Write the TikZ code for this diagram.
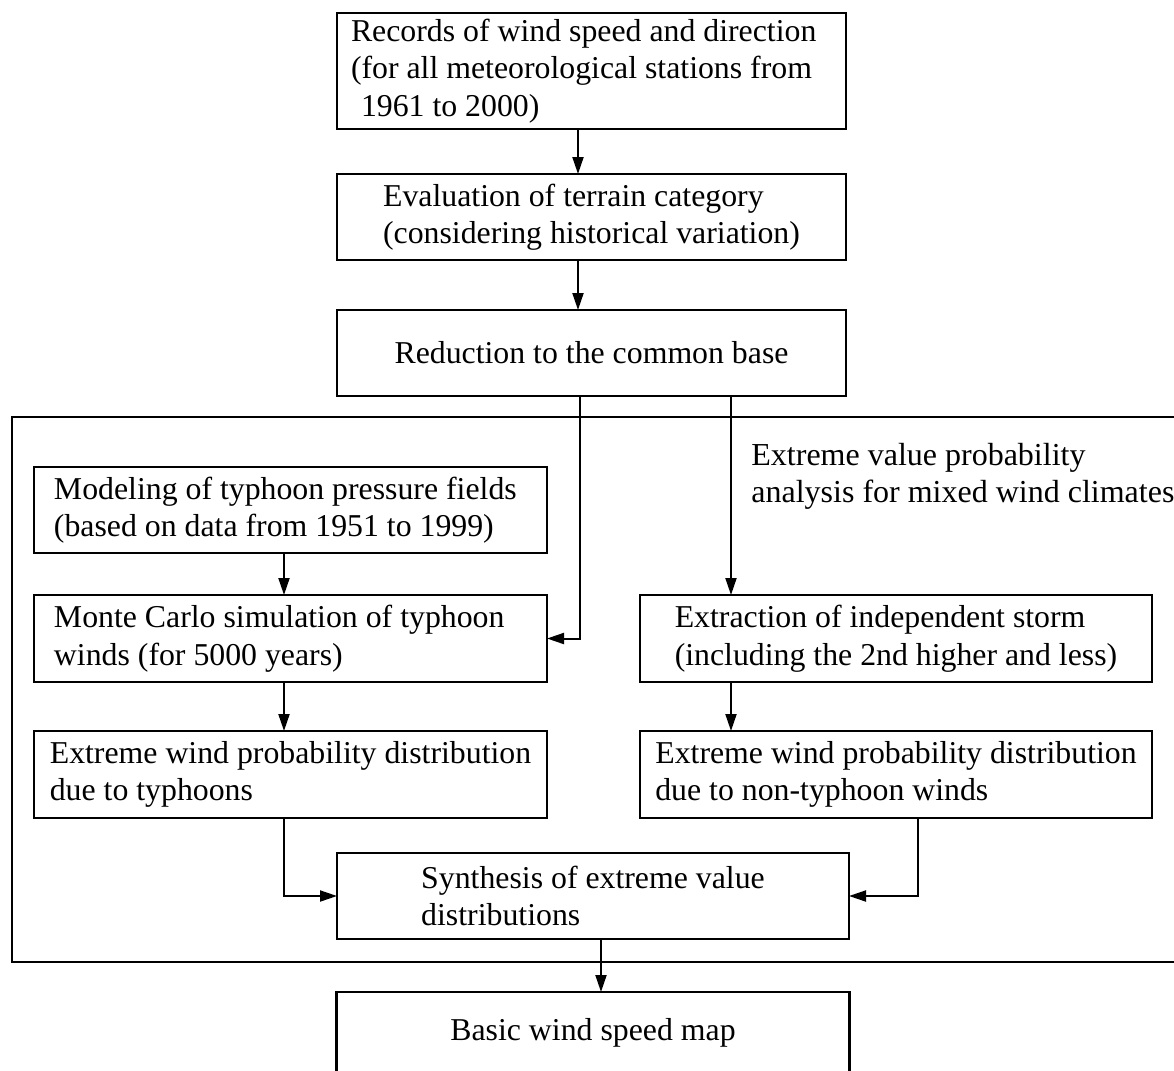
\documentclass[tikz,border=0pt]{standalone}
\usepackage{fontspec}
\setmainfont{Liberation Serif}
\usetikzlibrary{positioning,arrows.meta}

\tikzset{
  block/.style={draw, line width=1.35pt, outer sep=0pt, inner ysep=1pt, align=flush left,
    minimum width=254.5pt, minimum height=43pt, font=\fontsize{15.9pt}{18.75pt}\selectfont},
  note/.style={anchor=west, align=flush left, inner sep=0pt, font=\fontsize{16pt}{18.5pt}\selectfont},
  flow/.style={line width=1pt, -{Triangle[length=8.5pt,width=5.5pt]}},
}

\begin{document}
\begin{tikzpicture}
  \useasboundingbox (0,0) rectangle (587pt,-535.5pt);
  \clip (0,0) rectangle (587pt,-535.5pt);

  % Define nodes
  \node[block, minimum height=58pt, inner xsep=7pt, text width=240.5pt] (rec) at (295.75pt,-35.5pt)
    {Records of wind speed and direction\\(for all meteorological stations from\\\hspace*{5pt}1961 to 2000)};
  \node[block, below=22.5pt of rec] (eva) {Evaluation of terrain category\\(considering historical variation)};
  \node[block, below=25pt of eva] (red) {Reduction to the common base};
  \node[block, below=35.5pt of red, xshift=-150.5pt, minimum width=256.5pt, inner xsep=10pt, text width=236.5pt] (mod)
    {Modeling of typhoon pressure fields\\(based on data from 1951 to 1999)};
  \node[block, below=21pt of mod, minimum width=256.5pt, minimum height=43.5pt, inner xsep=10pt, text width=236.5pt] (mc)
    {Monte Carlo simulation of typhoon\\winds (for 5000 years)};
  \node[block, below=24.5pt of mc, minimum width=256.5pt, minimum height=43.5pt] (ty)
    {Extreme wind probability distribution\\due to typhoons};
  \node[block, right=46.5pt of mc, minimum width=256pt, minimum height=43.5pt] (ind)
    {Extraction of independent storm\\(including the 2nd higher and less)};
  \node[block, below=24.5pt of ind, minimum width=256pt, minimum height=43.5pt] (nty)
    {Extreme wind probability distribution\\due to non-typhoon winds};
  \node[block, below=17.5pt of ty, xshift=151.25pt, minimum width=256pt] (syn) {Synthesis of extreme value\\distributions};
  \node[block, below=26.5pt of syn, minimum width=256.5pt, minimum height=41pt] (map) {Basic wind speed map};

  \node[note] (mix) at (375.5pt,-238.25pt) {Extreme value probability\\analysis for mixed wind climates};

  % Frame
  \draw[line width=1pt] (6pt,-208.5pt) rectangle (650pt,-481pt);

  % Connect the nodes
  \coordinate (split) at ([xshift=69.75pt]red.south);
  \draw[flow] ([xshift=-6.75pt]rec.south) -- ([xshift=-6.75pt]eva.north);
  \draw[flow] ([xshift=-6.75pt]eva.south) -- ([xshift=-6.75pt]red.north);
  \draw[flow] ([xshift=-5.75pt]red.south) |- (mc.east);
  \draw[flow] (split) -- (split |- ind.north);
  \draw[flow] ([xshift=-3.25pt]mod.south) -- ([xshift=-3.25pt]mc.north);
  \draw[flow] ([xshift=-3.25pt]mc.south) -- ([xshift=-3.25pt]ty.north);
  \draw[flow] (split |- ind.south) -- (split |- nty.north);
  \draw[flow] ([xshift=-3.25pt]ty.south) |- (syn.west);
  \draw[flow] ([xshift=11pt]nty.south) |- (syn.east);
  \draw[flow] ([xshift=4pt]syn.south) -- ([xshift=4pt]map.north);

\end{tikzpicture}
\end{document}
